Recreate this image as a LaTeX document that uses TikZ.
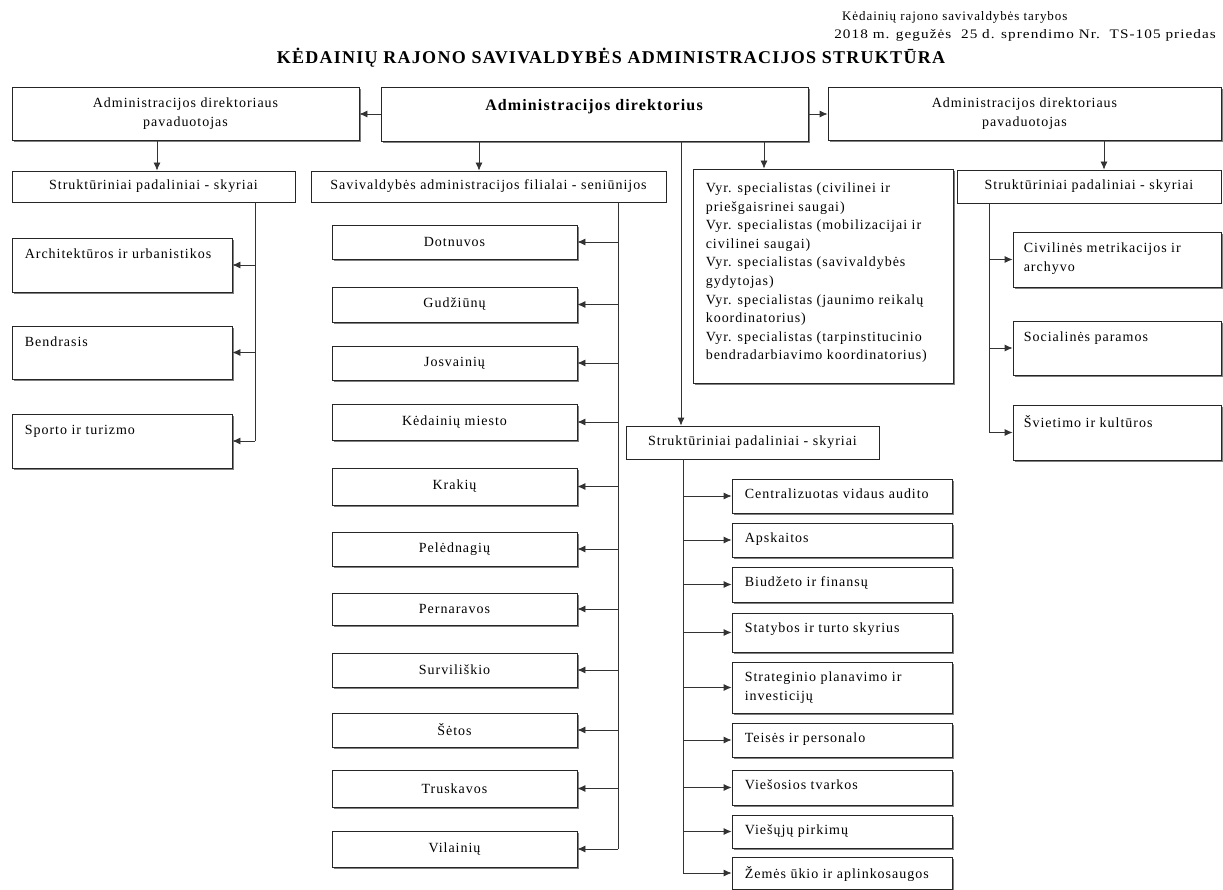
\documentclass[tikz,border=0pt]{standalone}
\usepackage{fontspec}
\setmainfont{Liberation Serif}[LetterSpace=7]
\usetikzlibrary{arrows.meta,shadows}
\newcommand\nfont{\fontsize{14}{18.6}\selectfont}
\tikzset{
 box/.style={draw=black!85, line width=0.8pt, fill=white, inner sep=0pt, font=\nfont, align=center,
   drop shadow={shadow xshift=2pt, shadow yshift=-2pt, fill=black!50, opacity=1}},
 plain/.style={draw=black!85, line width=0.8pt, fill=white, inner sep=0pt, font=\nfont, align=center},
 conn/.style={draw=black!80, line width=0.8pt},
 arr/.style={conn, -{Latex[length=8pt,width=7pt]}},
 txt/.style={inner sep=0pt, font=\nfont, align=left, anchor=north west},
}
\newcommand\mkbox[7]{\node[#6, minimum width={(#4-#2)*1pt}, minimum height={(#5-#3)*1pt}] (#1) at ({(#2+#4)/2},{(#3+#5)/2}) {#7};}
\newcommand\mkboxt[9]{\node[#6, minimum width={(#4-#2)*1pt}, minimum height={(#5-#3)*1pt}] (#1) at ({(#2+#4)/2},{(#3+#5)/2}) {};
  \node[txt] (#1t) at ([shift={(#8,#9)}]#1.north west) {#7};}
\begin{document}
\begin{tikzpicture}[x=1pt,y=-1pt]
\useasboundingbox[fill=white] (0,0) rectangle (1223,890);
\clip (0,0) rectangle (1223,890);
% header
\node[anchor=base west, inner sep=0pt, font=\fontsize{13}{15}\selectfont] (hdr1) at (842,21) {Kėdainių rajono savivaldybės tarybos};
\node[anchor=base east, inner sep=0pt, font=\fontsize{13}{15}\selectfont] (hdr2) at (1216,39) {\scalebox{1.17}[1]{2018 m. gegužės\ \ 25 d. sprendimo Nr.\ \ TS-105 priedas}};
\node[inner sep=0pt, font=\bfseries\fontsize{18}{20}\selectfont] (title) at (611,58) {KĖDAINIŲ RAJONO SAVIVALDYBĖS ADMINISTRACIJOS STRUKTŪRA};
% top row
\mkbox{depL}{12}{87}{359}{140}{box}{Administracijos direktoriaus\\pavaduotojas}
\mkbox{dir}{381}{87}{808}{141}{box}{}
\node[inner sep=0pt, font=\bfseries\fontsize{16}{19}\selectfont] (dirt) at (594,107) {Administracijos direktorius};
\mkbox{depR}{828}{87}{1221}{140}{box}{Administracijos direktoriaus\\pavaduotojas}
\draw[arr] (dir.west) -- (dir.west -| depL.east);
\draw[arr] (dir.east) -- (dir.east -| depR.west);
% second row
\mkbox{sL}{12}{171}{295}{202}{plain}{Struktūriniai padaliniai - skyriai}
\mkbox{sen}{311}{171}{666}{202}{plain}{Savivaldybės administracijos filialai - seniūnijos}
\mkboxt{spec}{693}{169}{953}{383}{box}{Vyr. specialistas (civilinei ir\\priešgaisrinei saugai)\\Vyr. specialistas (mobilizacijai ir\\civilinei saugai)\\Vyr. specialistas (savivaldybės\\gydytojas)\\Vyr. specialistas (jaunimo reikalų\\koordinatorius)\\Vyr. specialistas (tarpinstitucinio\\bendradarbiavimo koordinatorius)}{13}{14}
\mkbox{sR}{957}{170}{1221}{203}{plain}{Struktūriniai padaliniai - skyriai}
\mkbox{sM}{626}{426}{879}{459}{plain}{Struktūriniai padaliniai - skyriai}
% columns
\coordinate (xL) at (157,0); \coordinate (xSen) at (479,0); \coordinate (xDir) at (681,0);
\coordinate (xSpec) at (764,0); \coordinate (xR) at (1104,0);
\coordinate (vL) at (255,0); \coordinate (vSen) at (618,0); \coordinate (vM) at (683,0); \coordinate (vR) at (989,0);
\draw[arr] (xL |- depL.south) -- (xL |- sL.north);
\draw[arr] (xSen |- dir.south) -- (xSen |- sen.north);
\draw[arr] (xDir |- dir.south) -- (xDir |- sM.north);
\draw[arr] (xSpec |- dir.south) -- (xSpec |- spec.north);
\draw[arr] (xR |- depR.south) -- (xR |- sR.north);
% left column
\mkboxt{A1}{12}{238}{232}{292}{box}{Architektūros ir urbanistikos}{13}{11}
\mkboxt{A2}{12}{326}{232}{379}{box}{Bendrasis}{13}{11}
\mkboxt{A3}{12}{414}{232}{468}{box}{Sporto ir turizmo}{13}{11}
\draw[conn] (vL |- sL.south) -- (vL |- A3.east);
\foreach \n in {A1,A2,A3} \draw[arr] (vL |- \n.east) -- (\n.east);
% seniunijos
\mkbox{S1}{332}{225}{577}{259}{box}{Dotnuvos}
\mkbox{S2}{332}{287}{577}{322}{box}{Gudžiūnų}
\mkbox{S3}{332}{346}{577}{380}{box}{Josvainių}
\mkbox{S4}{332}{404}{577}{440}{box}{Kėdainių miesto}
\mkbox{S5}{332}{468}{577}{505}{box}{Krakių}
\mkbox{S6}{332}{532}{577}{566}{box}{Pelėdnagių}
\mkbox{S7}{332}{593}{577}{625}{box}{Pernaravos}
\mkbox{S8}{332}{653}{577}{687}{box}{Surviliškio}
\mkbox{S9}{332}{713}{577}{747}{box}{Šėtos}
\mkbox{S10}{332}{770}{577}{807}{box}{Truskavos}
\mkbox{S11}{332}{831}{577}{867}{box}{Vilainių}
\draw[conn] (vSen |- sen.south) -- (vSen |- S11.east);
\foreach \n in {S1,S2,S3,S4,S5,S6,S7,S8,S9,S10,S11} \draw[arr] (vSen |- \n.east) -- (\n.east);
% right column
\mkboxt{R1}{1013}{232}{1221}{287}{box}{Civilinės metrikacijos ir\\archyvo}{11}{11}
\mkboxt{R2}{1013}{321}{1221}{375}{box}{Socialinės paramos}{11}{11}
\mkboxt{R3}{1013}{405}{1221}{460}{box}{Švietimo ir kultūros}{11}{11}
\draw[conn] (vR |- sR.south) -- (vR |- R3.west);
\foreach \n in {R1,R2,R3} \draw[arr] (vR |- \n.west) -- (\n.west);
% middle structure
\mkboxt{M1}{732}{479}{952}{513}{box}{Centralizuotas vidaus audito}{13}{10}
\mkboxt{M2}{732}{523}{952}{557}{box}{Apskaitos}{13}{10}
\mkboxt{M3}{732}{567}{952}{602}{box}{Biudžeto ir finansų}{13}{10}
\mkboxt{M4}{732}{613}{952}{652}{box}{Statybos ir turto skyrius}{13}{10}
\mkboxt{M5}{732}{662}{952}{713}{box}{Strateginio planavimo ir\\investicijų}{13}{10}
\mkboxt{M6}{732}{723}{952}{757}{box}{Teisės ir personalo}{13}{10}
\mkboxt{M7}{732}{770}{952}{805}{box}{Viešosios tvarkos}{13}{10}
\mkboxt{M8}{732}{815}{952}{848}{box}{Viešųjų pirkimų}{13}{10}
\mkboxt{M9}{732}{857}{952}{889}{box}{Žemės ūkio ir aplinkosaugos}{13}{10}
\draw[conn] (vM |- sM.south) -- (vM |- M9.west);
\foreach \n in {M1,M2,M3,M4,M5,M6,M7,M8,M9} \draw[arr] (vM |- \n.west) -- (\n.west);
\end{tikzpicture}
\end{document}
